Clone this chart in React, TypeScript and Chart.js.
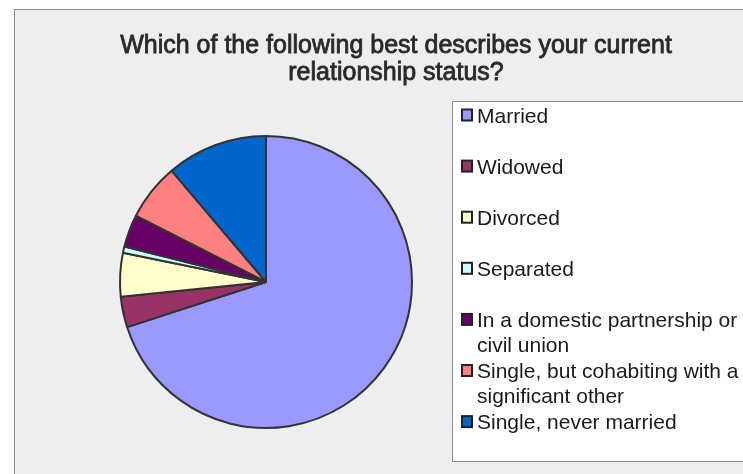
import React, { useEffect, useRef } from "react";
import { Chart, registerables } from "chart.js";

Chart.register(...registerables);

const TITLE_LINES = [
  "Which of the following best describes your current",
  "relationship status?",
];
const CATEGORIES = [
  "Married",
  "Widowed",
  "Divorced",
  "Separated",
  "In a domestic partnership or civil union",
  "Single, but cohabiting with a significant other",
  "Single, never married",
];
const LEGEND_LINES = [
  ["Married"],
  ["Widowed"],
  ["Divorced"],
  ["Separated"],
  ["In a domestic partnership or", "civil union"],
  ["Single, but cohabiting with a", "significant other"],
  ["Single, never married"],
];
const VALUES = [70.0, 3.4, 4.8, 0.7, 3.6, 6.3, 11.2];
const COLORS = ["#9999FF", "#993366", "#FFFFCC", "#CCFFFF", "#660066", "#FF8080", "#0066CC"];

const W = 743;
const H = 474;

const framePlugin = {
  id: "frame",
  beforeDraw(chart: any) {
    const ctx = chart.ctx;
    ctx.save();
    ctx.fillStyle = "#ffffff";
    ctx.fillRect(0, 0, W, H);
    ctx.fillStyle = "#eeeeee";
    ctx.fillRect(14.5, 9.5, W, H);
    ctx.strokeStyle = "#8e8e8e";
    ctx.lineWidth = 1;
    ctx.strokeRect(14.5, 9.5, W + 20, H + 20);
    ctx.restore();
  },
  afterDraw(chart: any) {
    const ctx = chart.ctx;
    ctx.save();
    // title
    ctx.fillStyle = "#2a2a2a";
    ctx.strokeStyle = "#2a2a2a";
    ctx.lineWidth = 0.8;
    ctx.font = "25px 'Liberation Sans', Arial, sans-serif";
    ctx.textAlign = "center";
    ctx.textBaseline = "alphabetic";
    TITLE_LINES.forEach((line, i) => {
      ctx.fillText(line, 396, 53 + i * 27);
      ctx.strokeText(line, 396, 53 + i * 27);
    });
    // legend box
    ctx.fillStyle = "#ffffff";
    ctx.fillRect(452.5, 101.5, 320, 360);
    ctx.strokeStyle = "#8e8e8e";
    ctx.lineWidth = 1;
    ctx.strokeRect(452.5, 101.5, 320, 360);
    ctx.font = "21px 'Liberation Sans', Arial, sans-serif";
    ctx.textAlign = "left";
    const colors = chart.data.datasets[0].backgroundColor as string[];
    LEGEND_LINES.forEach((lines, i) => {
      const base = 122.5 + i * 51.1;
      ctx.fillStyle = "#222222";
      ctx.fillRect(461, base - 14, 12, 13);
      ctx.fillStyle = colors[i];
      ctx.fillRect(463, base - 12, 8, 9);
      ctx.fillStyle = "#1a1a1a";
      lines.forEach((t, j) => {
        ctx.fillText(t, 477, base + j * 25);
      });
    });
    ctx.restore();
  },
};

export default function App() {
  const ref = useRef<HTMLCanvasElement | null>(null);
  useEffect(() => {
    if (!ref.current) return;
    const chart = new Chart(ref.current, {
      type: "pie",
      data: {
        labels: CATEGORIES,
        datasets: [
          {
            data: VALUES,
            backgroundColor: COLORS,
            borderColor: "#333333",
            borderWidth: 2,
          },
        ],
      },
      options: {
        responsive: false,
        animation: false,
        devicePixelRatio: 1,
        layout: { padding: { left: 119, right: W - 413, top: 135, bottom: H - 429 } },
        plugins: {
          legend: { display: false },
          title: { display: false },
          tooltip: { enabled: false },
        },
      },
      plugins: [framePlugin],
    });
    return () => chart.destroy();
  }, []);
  return (
    <div style={{ position: "fixed", left: 0, top: 0, width: W, height: H, overflow: "hidden", background: "#fff" }}>
      <canvas ref={ref} width={W} height={H} style={{ display: "block", width: W, height: H }} />
    </div>
  );
}
